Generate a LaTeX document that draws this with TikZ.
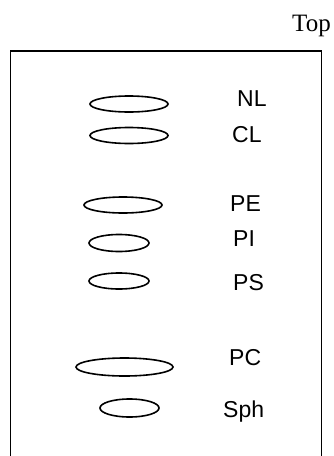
\documentclass[tikz,border=0pt]{standalone}
\usepackage{fontspec}
\setmainfont{Liberation Serif}
\newfontfamily\labelfont{Liberation Sans}
\usetikzlibrary{shapes.geometric}
\tikzset{
  lipid/.style={draw, ellipse, line width=1.6pt, inner sep=0pt,
    minimum width=#1, minimum height=16pt},
  band/.style={anchor=base west, inner sep=0pt, font=\labelfont\fontsize{23}{23}\selectfont},
  frame/.style={line width=1.8pt}
}
\begin{document}
\begin{tikzpicture}[x=1pt,y=-1pt]
  \useasboundingbox (0,0) rectangle (334,456);
  % plate outline (open at the bottom edge)
  \draw[frame] (10.5,460) -- (10.5,51) -- (321.5,51) -- (321.5,460);
  % direction label
  \node[anchor=base west, inner sep=0pt, font=\fontsize{25}{25}\selectfont] (top) at (292,31) {Top};
  % spots
  \node[lipid=78pt] (nl)  at (129,104)   {};
  \node[lipid=78pt] (cl)  at (129,135.5) {};
  \node[lipid=78pt] (pe)  at (123,205)   {};
  \node[lipid=60pt, minimum height=17pt] (pi)  at (119,243) {};
  \node[lipid=60pt] (ps)  at (119,281)   {};
  \node[lipid=97pt, minimum height=18pt] (pc)  at (124.5,367) {};
  \node[lipid=59pt, minimum height=18pt] (sph) at (129.5,408) {};
  % spot names
  \node[band] (tnl)  at (237,106) {NL};
  \node[band] (tcl)  at (232,142) {CL};
  \node[band] (tpe)  at (230,211) {PE};
  \node[band] (tpi)  at (233,246) {PI};
  \node[band] (tps)  at (233,290) {PS};
  \node[band] (tpc)  at (229,365) {PC};
  \node[band] (tsph) at (223,417) {Sph};
\end{tikzpicture}
\end{document}
